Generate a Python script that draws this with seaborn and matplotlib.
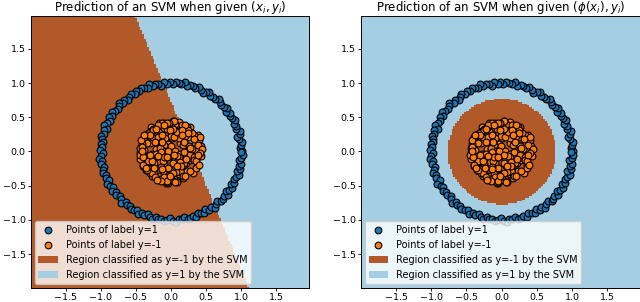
import matplotlib
matplotlib.use("Agg")
import matplotlib.pyplot as plt
import numpy as np
import seaborn as sns
from matplotlib.colors import ListedColormap
from matplotlib.lines import Line2D
from matplotlib.patches import Patch

# ---------------------------------------------------------------------------
# Data
# ---------------------------------------------------------------------------

# outer ring, label y=1 (polar: angle in degrees, radius)
ring_angle_deg = [
    0.8, 3.1, 5.2, 7.9, 10.4, 12.6, 14.9, 17.3, 19.8, 22.1,
    24.5, 26.7, 29.2, 31.8, 33.9, 36.4, 38.7, 41.0, 43.6, 45.9,
    48.3, 50.6, 53.0, 55.5, 57.7, 60.2, 62.4, 64.9, 67.3, 69.6,
    72.1, 74.3, 76.8, 79.0, 81.5, 83.9, 86.2, 88.6, 91.0, 93.3,
    95.8, 98.1, 100.4, 102.9, 105.2, 107.7, 109.9, 112.4, 114.8, 117.1,
    119.5, 121.8, 124.3, 126.6, 129.0, 131.4, 133.7, 136.2, 138.5, 140.9,
    143.3, 145.6, 148.0, 150.4, 152.7, 155.1, 157.6, 159.8, 162.3, 164.7,
    167.0, 169.4, 171.8, 174.1, 176.5, 178.9, 181.2, 183.7, 186.0, 188.4,
    190.8, 193.1, 195.6, 197.9, 200.3, 202.7, 205.0, 207.4, 209.8, 212.1,
    214.6, 216.9, 219.3, 221.7, 224.0, 226.4, 228.8, 231.1, 233.6, 235.9,
    238.3, 240.7, 243.0, 245.5, 247.8, 250.2, 252.6, 254.9, 257.3, 259.7,
    262.0, 264.5, 266.8, 269.2, 271.6, 273.9, 276.3, 278.7, 281.0, 283.5,
    285.8, 288.2, 290.6, 292.9, 295.3, 297.7, 300.1, 302.4, 304.8, 307.2,
    309.5, 311.9, 314.3, 316.7, 319.0, 321.4, 323.8, 326.1, 328.5, 330.9,
    333.2, 335.6, 338.0, 340.4, 342.7, 345.1, 347.5, 349.8, 352.2, 354.6,
    357.0, 359.3,
]
ring_radius = [
    1.01, 0.98, 1.00, 1.02, 0.99, 0.97, 1.01, 1.03, 0.99, 1.00,
    0.98, 1.02, 1.00, 0.99, 1.01, 0.97, 1.02, 1.00, 0.98, 1.01,
    1.03, 0.99, 1.00, 0.98, 1.02, 1.01, 0.97, 1.00, 1.02, 0.99,
    1.00, 1.01, 0.98, 1.03, 0.99, 1.00, 1.02, 0.98, 1.01, 0.99,
    1.02, 0.97, 1.00, 1.01, 0.99, 1.03, 0.98, 1.00, 1.02, 0.99,
    1.01, 0.98, 1.02, 1.00, 0.97, 1.01, 0.99, 1.03, 1.00, 0.98,
    1.00, 1.02, 0.99, 1.01, 0.98, 1.00, 1.03, 0.97, 1.01, 0.99,
    1.02, 1.00, 0.98, 1.01, 0.99, 1.02, 0.97, 1.00, 1.03, 0.99,
    1.01, 0.98, 1.00, 1.02, 0.99, 1.01, 0.97, 1.03, 1.00, 0.98,
    1.02, 0.99, 1.01, 0.97, 1.00, 1.03, 0.98, 1.01, 0.99, 1.02,
    1.00, 0.98, 1.03, 0.99, 1.01, 0.97, 1.00, 1.02, 0.98, 1.01,
    0.99, 1.02, 1.00, 0.97, 1.01, 1.03, 0.99, 1.00, 0.98, 1.02,
    1.01, 0.99, 1.03, 0.98, 1.00, 1.02, 0.97, 1.01, 0.99, 1.03,
    1.00, 0.98, 1.02, 1.01, 0.99, 1.03, 0.97, 1.00, 1.02, 0.98,
    1.01, 0.99, 1.00, 1.03, 0.98, 1.02, 0.99, 1.01, 0.97, 1.00,
    1.02, 0.99,
]

# inner blob, label y=-1 (polar: angle in degrees, radius)
blob_angle_deg = [
    12, 187, 301, 75, 240, 143, 33, 268, 199, 110,
    355, 58, 222, 160, 289, 95, 17, 330, 250, 128,
    45, 205, 315, 83, 172, 276, 5, 138, 233, 350,
    66, 193, 298, 118, 25, 258, 151, 340, 88, 214,
    280, 39, 167, 245, 103, 322, 8, 181, 62, 228,
    307, 134, 20, 264, 92, 196, 345, 155, 71, 238,
    293, 115, 50, 209, 335, 178, 82, 256, 30, 147,
    318, 99, 226, 3, 163, 272, 125, 54, 190, 342,
    79, 248, 140, 15, 303, 217, 106, 359, 184, 41,
    261, 131, 327, 68, 202, 286, 23, 157, 236, 97,
    311, 174, 48, 253, 122, 338, 86, 211, 0, 145,
    296, 60, 231, 169, 10, 283, 113, 349, 197, 36,
    270, 152, 77, 220, 325, 101, 243, 28, 176, 304,
    136, 57, 266, 208, 351, 90, 183, 14, 247, 119,
    332, 72, 194, 279, 43, 161, 229, 311, 108, 6,
    255, 149, 85, 215, 346, 127, 291, 52, 189, 262,
    18, 166, 234, 308, 94, 200, 340, 63, 275, 133,
    4, 129, 263, 47, 186, 314, 98, 225, 357, 158,
    73, 206, 339, 116, 251, 29, 171, 295, 84, 219,
    142, 277, 11, 191, 326, 64, 239, 105, 353, 180,
    35, 267, 148, 299, 56, 213, 124, 334, 93, 244,
]
blob_radius = [
    0.41, 0.28, 0.36, 0.44, 0.19, 0.33, 0.45, 0.25, 0.39, 0.12,
    0.30, 0.43, 0.22, 0.40, 0.35, 0.08, 0.27, 0.42, 0.31, 0.46,
    0.17, 0.37, 0.44, 0.29, 0.21, 0.40, 0.34, 0.14, 0.45, 0.26,
    0.38, 0.43, 0.11, 0.32, 0.41, 0.24, 0.44, 0.36, 0.20, 0.30,
    0.45, 0.33, 0.15, 0.39, 0.42, 0.27, 0.05, 0.44, 0.35, 0.18,
    0.29, 0.41, 0.37, 0.46, 0.23, 0.32, 0.13, 0.43, 0.39, 0.26,
    0.42, 0.21, 0.34, 0.45, 0.30, 0.10, 0.40, 0.36, 0.19, 0.44,
    0.25, 0.38, 0.43, 0.33, 0.16, 0.41, 0.28, 0.45, 0.22, 0.37,
    0.31, 0.07, 0.42, 0.39, 0.27, 0.44, 0.35, 0.18, 0.40, 0.24,
    0.46, 0.29, 0.14, 0.41, 0.36, 0.22, 0.43, 0.32, 0.09, 0.38,
    0.20, 0.44, 0.30, 0.35, 0.40, 0.26, 0.45, 0.12, 0.37, 0.42,
    0.33, 0.23, 0.39, 0.04, 0.43, 0.31, 0.45, 0.27, 0.16, 0.41,
    0.36, 0.44, 0.21, 0.40, 0.11, 0.34, 0.29, 0.46, 0.38, 0.25,
    0.19, 0.42, 0.35, 0.30, 0.43, 0.37, 0.14, 0.39, 0.44, 0.28,
    0.24, 0.32, 0.45, 0.17, 0.40, 0.36, 0.41, 0.06, 0.43, 0.30,
    0.38, 0.26, 0.44, 0.13, 0.34, 0.42, 0.22, 0.39, 0.31, 0.45,
    0.27, 0.43, 0.10, 0.37, 0.41, 0.20, 0.35, 0.44, 0.32, 0.18,
    0.44, 0.40, 0.43, 0.36, 0.45, 0.39, 0.42, 0.34, 0.41, 0.46,
    0.30, 0.44, 0.38, 0.43, 0.45, 0.37, 0.42, 0.40, 0.33, 0.44,
    0.39, 0.45, 0.28, 0.41, 0.43, 0.35, 0.44, 0.40, 0.38, 0.42,
    0.23, 0.36, 0.45, 0.41, 0.29, 0.43, 0.39, 0.44, 0.32, 0.46,
]

# decision rules
# left: linear SVM, class -1 where x + w_y * y < b
linear_w_y = 0.408
linear_b = 0.298
# right: SVM on phi(x) -> a disc of class -1
disc_center = (0.0, 0.0)
disc_radius = 0.77

x_lim = (-2.0, 1.97)
y_lim = (-1.99, 1.98)
ticks = [-1.5, -1.0, -0.5, 0.0, 0.5, 1.0, 1.5]

titles = [
    r"Prediction of an SVM when given $(x_i, y_i)$",
    r"Prediction of an SVM when given $(\phi(x_i), y_i)$",
]
legend_labels = [
    "Points of label y=1",
    "Points of label y=-1",
    "Region classified as y=-1 by the SVM",
    "Region classified as y=1 by the SVM",
]

BLUE = "#1f77b4"
ORANGE = "#ff7f0e"
BROWN = "#b15928"
LIGHT = "#a6cee3"

# ---------------------------------------------------------------------------

ring_t = np.deg2rad(ring_angle_deg)
ring_x = np.array(ring_radius) * np.cos(ring_t)
ring_y = np.array(ring_radius) * np.sin(ring_t)
blob_t = np.deg2rad(blob_angle_deg)
blob_x = np.array(blob_radius) * np.cos(blob_t)
blob_y = np.array(blob_radius) * np.sin(blob_t)

h = 0.025
xx, yy = np.meshgrid(np.arange(x_lim[0], x_lim[1] + h, h),
                     np.arange(y_lim[0], y_lim[1] + h, h))
z_left = np.where(xx + linear_w_y * yy < linear_b, -1, 1)
z_right = np.where((xx - disc_center[0]) ** 2 + (yy - disc_center[1]) ** 2
                   < disc_radius ** 2, -1, 1)

cmap = ListedColormap([BROWN, LIGHT])

fig = plt.figure(figsize=(6.4, 3.02), dpi=100)
axes = [fig.add_axes([0.048, 0.0474, 0.4353, 0.8997]),
        fig.add_axes([0.564, 0.0474, 0.4364, 0.8997])]

for ax, z, title in zip(axes, [z_left, z_right], titles):
    ax.pcolormesh(xx, yy, z, cmap=cmap, vmin=-1, vmax=1, shading="nearest")
    sns.scatterplot(x=ring_x, y=ring_y, color=BLUE, edgecolor="black",
                    s=24, linewidth=0.8, ax=ax, legend=False, zorder=3)
    sns.scatterplot(x=blob_x, y=blob_y, color=ORANGE, edgecolor="black",
                    s=24, linewidth=0.8, ax=ax, legend=False, zorder=3)
    ax.set_xlim(*x_lim)
    ax.set_ylim(*y_lim)
    ax.set_xticks(ticks)
    ax.set_yticks(ticks)
    ax.tick_params(labelsize=6.8, length=2.5, width=0.6, pad=1.2)
    ax.set_title(title, fontsize=8.5, pad=3)
    for sp in ax.spines.values():
        sp.set_linewidth(0.7)

    handles = [
        Line2D([], [], linestyle="none", marker="o", markersize=4.8,
               markerfacecolor=BLUE, markeredgecolor="black", markeredgewidth=0.8),
        Line2D([], [], linestyle="none", marker="o", markersize=4.8,
               markerfacecolor=ORANGE, markeredgecolor="black", markeredgewidth=0.8),
        Patch(facecolor=BROWN),
        Patch(facecolor=LIGHT),
    ]
    ax.legend(handles, legend_labels, loc="lower left", fontsize=7,
              borderaxespad=0.4, handlelength=2.0)

fig.savefig("out.png", dpi=100)
